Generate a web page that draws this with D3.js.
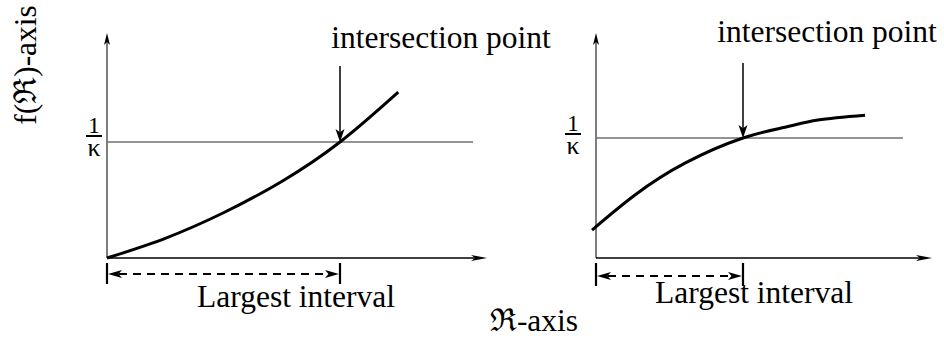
<!DOCTYPE html>
<html>
<head>
<meta charset="utf-8">
<script src="https://cdn.jsdelivr.net/npm/d3@7/dist/d3.min.js"></script>
<style>
  html, body { margin: 0; padding: 0; background: #fff; }
  svg { display: block; }
</style>
</head>
<body>
<svg id="chart" width="944" height="338"></svg>
<script>
// f(R) curves, in units where the threshold 1/kappa = 1 and the intersection sits at x = 1
const leftCurveX  = [0, 0.25, 0.5, 0.75, 1, 1.25];
const leftCurveY  = [0, 0.17, 0.39, 0.66, 1, 1.43];
const rightCurveX = [-0.027, 0.265, 0.605, 1, 1.286, 1.51, 1.83];
const rightCurveY = [0.233, 0.525, 0.79, 1, 1.09, 1.15, 1.19];

const thresholdValue = 1;          // 1/kappa
const intersectionX = 1;
const labelText = { intersection: "intersection point", interval: "Largest interval",
                    yTitle: "f(\u211C)-axis", xTitle: "\u211C-axis", num: "1", den: "\u03BA" };

const FONT = "'Liberation Serif'";

// Panel layout
const panels = [
  { xRange: [107, 340], yRange: [258, 142], xEnd: 1.631, hEnd: 1.571, yTop: 1.94,
    arrowTop: 1.655, textX: 441, textY: 48, intY: 274, tickTop: 263, tickBot: 284,
    intTextX: 296, intTextY: 307, fracX: 94, fracBar: 136, cx: leftCurveX, cy: leftCurveY },
  { xRange: [596, 743], yRange: [258, 138], xEnd: 2.286, hEnd: 2.088, yTop: 1.875,
    arrowTop: 1.625, textX: 827, textY: 42, intY: 276, tickTop: 263, tickBot: 286,
    intTextX: 754, intTextY: 303, fracX: 573, fracBar: 134, cx: rightCurveX, cy: rightCurveY }
];

const svg = d3.select("#chart");

function addText(g, x, y, size, str) {
  return g.append("text").attr("x", x).attr("y", y)
    .attr("text-anchor", "middle").style("font-family", FONT)
    .attr("font-size", size).attr("fill", "#000").text(str);
}

function arrowHead(g, x, y, dir, len, half) {
  // dir: "up", "down", "left", "right"; tip at (x, y)
  let pts;
  if (dir === "right") pts = [[x, y], [x - len, y - half], [x - len * 0.75, y], [x - len, y + half]];
  if (dir === "left")  pts = [[x, y], [x + len, y - half], [x + len * 0.75, y], [x + len, y + half]];
  if (dir === "up")    pts = [[x, y], [x - half, y + len], [x, y + len * 0.75], [x + half, y + len]];
  if (dir === "down")  pts = [[x, y], [x - half, y - len], [x, y - len * 0.75], [x + half, y - len]];
  g.append("path").attr("d", "M" + pts.map(p => p.join(",")).join("L") + "Z").attr("fill", "#000");
}

panels.forEach(p => {
  const x = d3.scaleLinear().domain([0, intersectionX]).range(p.xRange);
  const y = d3.scaleLinear().domain([0, thresholdValue]).range(p.yRange);
  const g = svg.append("g");

  // threshold line 1/kappa
  g.append("line").attr("x1", x(0)).attr("x2", x(p.hEnd))
    .attr("y1", y(thresholdValue)).attr("y2", y(thresholdValue))
    .attr("stroke", "#707070").attr("stroke-width", 1.6);

  // vertical axis
  g.append("line").attr("x1", x(0)).attr("x2", x(0))
    .attr("y1", y(0)).attr("y2", y(p.yTop) + 6)
    .attr("stroke", "#707070").attr("stroke-width", 1.8);
  arrowHead(g, x(0), y(p.yTop), "up", 12, 3);

  // horizontal axis
  g.append("line").attr("x1", x(0)).attr("x2", x(p.xEnd) - 8)
    .attr("y1", y(0)).attr("y2", y(0))
    .attr("stroke", "#000").attr("stroke-width", 1.5);
  arrowHead(g, x(p.xEnd), y(0), "right", 16, 3);

  // curve
  const pts = p.cx.map((v, i) => [v, p.cy[i]]);
  g.append("path")
    .attr("d", d3.line().x(d => x(d[0])).y(d => y(d[1])).curve(d3.curveNatural)(pts))
    .attr("fill", "none").attr("stroke", "#000").attr("stroke-width", 3);

  // intersection pointer
  g.append("line").attr("x1", x(intersectionX)).attr("x2", x(intersectionX))
    .attr("y1", y(p.arrowTop)).attr("y2", y(thresholdValue) - 10)
    .attr("stroke", "#000").attr("stroke-width", 1.5);
  arrowHead(g, x(intersectionX), y(thresholdValue), "down", 13, 4.5);
  addText(g, p.textX, p.textY, 31.5, labelText.intersection);

  // largest interval marker
  g.append("line").attr("x1", x(0)).attr("x2", x(0)).attr("y1", p.tickTop).attr("y2", p.tickBot)
    .attr("stroke", "#000").attr("stroke-width", 2.2);
  g.append("line").attr("x1", x(intersectionX)).attr("x2", x(intersectionX)).attr("y1", p.tickTop).attr("y2", p.tickBot)
    .attr("stroke", "#000").attr("stroke-width", 2.2);
  g.append("line").attr("x1", x(0) + 12).attr("x2", x(intersectionX) - 12)
    .attr("y1", p.intY).attr("y2", p.intY)
    .attr("stroke", "#000").attr("stroke-width", 2).attr("stroke-dasharray", "8,6");
  arrowHead(g, x(0) + 1, p.intY, "left", 14, 4);
  arrowHead(g, x(intersectionX) - 1, p.intY, "right", 14, 4);
  addText(g, p.intTextX, p.intTextY, 31.5, labelText.interval);

  // 1/kappa label
  addText(g, p.fracX, p.fracBar - 3, 24, labelText.num);
  g.append("line").attr("x1", p.fracX - 8).attr("x2", p.fracX + 8)
    .attr("y1", p.fracBar).attr("y2", p.fracBar).attr("stroke", "#000").attr("stroke-width", 2);
  addText(g, p.fracX, p.fracBar + 20, 26, labelText.den);
});

// axis titles
addText(svg, 0, 0, 31.5, labelText.yTitle).attr("x", null).attr("y", null)
  .attr("transform", "translate(36,65) rotate(-90)");
addText(svg, 534, 331, 31.5, labelText.xTitle);
</script>
</body>
</html>
